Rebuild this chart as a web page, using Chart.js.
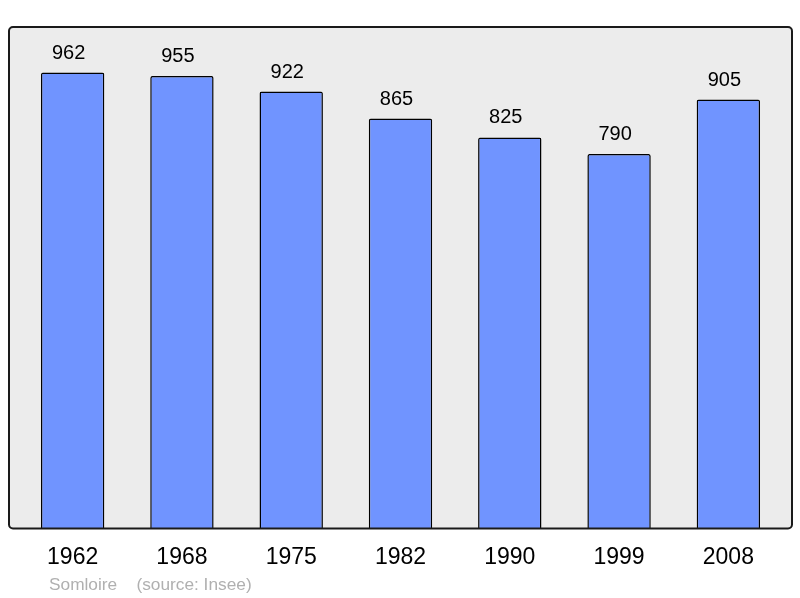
<!DOCTYPE html>
<html><head><meta charset="utf-8">
<script src="https://cdn.jsdelivr.net/npm/chart.js@4/dist/chart.umd.min.js"></script>
<style>html,body{margin:0;padding:0;background:#fff}#wrap{width:800px;height:598px}</style>
</head><body><div id="wrap"><canvas id="c" width="800" height="598"></canvas></div>
<script>
const years = ["1962","1968","1975","1982","1990","1999","2008"];
const population = [962,955,922,865,825,790,905];
const sourceText = "Somloire    (source: Insee)";

const frame = {
  id:'frame',
  beforeDraw(chart){
    const {ctx, chartArea:a} = chart;
    const x = a.left-9, y = a.top, w = a.right-a.left+18, h = a.bottom-a.top;
    ctx.save();
    ctx.beginPath();
    ctx.roundRect(x,y,w,h,4);
    ctx.fillStyle='#ececec';
    ctx.fill();
    ctx.restore();
  },
  afterDatasetsDraw(chart){
    const {ctx, chartArea:a} = chart;
    const x = a.left-9, y = a.top, w = a.right-a.left+18, h = a.bottom-a.top;
    ctx.save();
    ctx.beginPath();
    ctx.roundRect(x,y,w,h,4);
    ctx.lineWidth=2; ctx.strokeStyle='#1a1a1a';
    ctx.stroke();
    // value labels
    const meta = chart.getDatasetMeta(0);
    ctx.font='20px "Liberation Sans", Arial, sans-serif';
    ctx.fillStyle='#000'; ctx.textAlign='center'; ctx.textBaseline='alphabetic';
    meta.data.forEach((bar,i)=>{
      ctx.fillText(String(population[i]), bar.x-4, bar.y-14);
    });
    // source
    ctx.font='17.3px "Liberation Sans", Arial, sans-serif';
    ctx.fillStyle='#b0b0b0'; ctx.textAlign='left';
    ctx.fillText(sourceText, 49, 590);
    ctx.restore();
  }
};

new Chart(document.getElementById('c'), {
  type:'bar',
  data:{labels:years, datasets:[{data:population, backgroundColor:'#7094ff', borderColor:'#000', borderWidth:1.5, borderSkipped:'bottom', borderRadius:2, barPercentage:0.58, categoryPercentage:1}]},
  options:{
    responsive:false, animation:false,
    layout:{padding:{left:18, right:17, top:27, bottom:12}},
    plugins:{legend:{display:false}, tooltip:{enabled:false}},
    scales:{
      y:{display:false, min:0, max:1058.2},
      x:{grid:{display:false, drawTicks:false, tickLength:0}, border:{display:false},
         ticks:{color:'#000', padding:15, font:{size:23, family:'"Liberation Sans", Arial, sans-serif'}}}
    }
  },
  plugins:[frame]
});
</script></body></html>
